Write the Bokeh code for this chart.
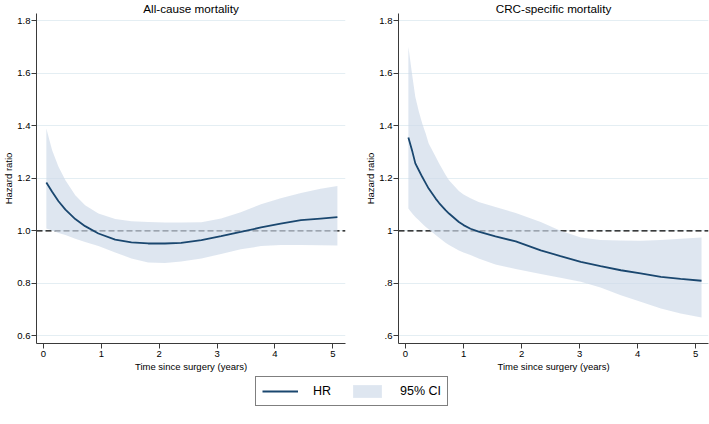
from bokeh.plotting import figure
from bokeh.models import Span, Legend, LegendItem, FixedTicker, Range1d
from bokeh.layouts import column, row
from bokeh.embed import file_html
from bokeh.resources import INLINE

# ---------------- data ----------------
titles = ["All-cause mortality", "CRC-specific mortality"]
x_label = "Time since surgery (years)"
y_label = "Hazard ratio"
x_ticks = [0, 1, 2, 3, 4, 5]
y_ticks = [0.6, 0.8, 1.0, 1.2, 1.4, 1.6, 1.8]
y_labels_all = ["0.6", "0.8", "1.0", "1.2", "1.4", "1.6", "1.8"]
y_labels_crc = [".6", ".8", "1", "1.2", "1.4", "1.6", "1.8"]
ref_value = 1.0
legend_labels = ["HR", "95% CI"]

all_time = [0.05, 0.15, 0.26, 0.38, 0.55, 0.72, 0.95, 1.24, 1.52, 1.81, 2.10,
            2.38, 2.73, 3.07, 3.41, 3.76, 4.10, 4.45, 4.79, 5.08]
all_hr = [1.184, 1.149, 1.113, 1.081, 1.045, 1.018, 0.990, 0.967, 0.956, 0.952, 0.952,
          0.954, 0.965, 0.980, 0.996, 1.013, 1.028, 1.041, 1.047, 1.052]
all_lo = [1.009, 1.001, 0.992, 0.984, 0.970, 0.958, 0.942, 0.918, 0.895, 0.880, 0.878,
          0.883, 0.895, 0.912, 0.930, 0.942, 0.946, 0.946, 0.945, 0.944]
all_hi = [1.390, 1.307, 1.244, 1.193, 1.136, 1.098, 1.066, 1.045, 1.037, 1.034, 1.032,
          1.032, 1.033, 1.047, 1.071, 1.101, 1.124, 1.144, 1.160, 1.171]

crc_time = [0.05, 0.12, 0.17, 0.23, 0.29, 0.35, 0.40, 0.52, 0.58, 0.69, 0.75, 0.92, 1.00,
            1.12, 1.26, 1.55, 1.90, 2.33, 2.67, 3.02, 3.36, 3.71, 4.05, 4.40, 4.74, 5.10]
crc_hr = [1.356, 1.301, 1.257, 1.231, 1.205, 1.181, 1.161, 1.123, 1.106, 1.079, 1.066, 1.034, 1.022,
          1.008, 0.997, 0.979, 0.960, 0.926, 0.904, 0.882, 0.866, 0.850, 0.838, 0.825, 0.817, 0.810]
crc_lo = [1.085, 1.065, 1.053, 1.040, 1.027, 1.015, 1.006, 0.984, 0.974, 0.955, 0.946, 0.925, 0.918,
          0.908, 0.895, 0.872, 0.855, 0.836, 0.821, 0.806, 0.784, 0.755, 0.730, 0.704, 0.685, 0.670]
crc_hi = [1.701, 1.587, 1.510, 1.455, 1.408, 1.370, 1.333, 1.282, 1.257, 1.214, 1.193, 1.152, 1.139,
          1.124, 1.110, 1.091, 1.068, 1.034, 1.000, 0.975, 0.965, 0.963, 0.962, 0.965, 0.970, 0.975]

# ---------------- style ----------------
FONT = "Liberation Sans"
NAVY = "#1a476f"
BAND = "#cdd9e8"
BAND_ALPHA = 0.667
GRID = "#e4eef3"
AXIS = "#3a3a3a"
PANEL_H = 374


def make_panel(title, t, hr, lo, hi, ylabels, width, border_left, border_right):
    p = figure(width=width, height=PANEL_H, output_backend="svg", toolbar_location=None,
               x_range=Range1d(-0.12, 5.22), y_range=Range1d(0.571, 1.828),
               min_border_left=border_left, min_border_right=border_right,
               min_border_top=0, min_border_bottom=29,
               title=title)
    p.outline_line_color = None
    p.background_fill_color = "white"
    p.border_fill_color = "white"
    p.title.align = "center"
    p.title.text_font = FONT
    p.title.text_font_style = "normal"
    p.title.text_font_size = "11.7px"
    p.title.text_color = "black"
    p.title.standoff = -2
    p.title.offset = 0

    p.xgrid.visible = False
    p.ygrid.grid_line_color = GRID
    p.ygrid.grid_line_width = 1

    p.xaxis.ticker = FixedTicker(ticks=x_ticks)
    p.yaxis.ticker = FixedTicker(ticks=y_ticks)
    p.yaxis.major_label_overrides = {v: s for v, s in zip(y_ticks, ylabels)}
    p.xaxis.axis_label = x_label
    p.yaxis.axis_label = y_label
    for ax in (p.xaxis, p.yaxis):
        ax.axis_line_color = AXIS
        ax.axis_line_width = 1
        ax.major_tick_line_color = AXIS
        ax.major_tick_in = 0
        ax.major_tick_out = 5
        ax.minor_tick_line_color = None
        ax.major_label_text_font = FONT
        ax.major_label_text_font_size = "9.5px"
        ax.major_label_text_color = "black"
        ax.axis_label_text_font = FONT
        ax.axis_label_text_font_size = "9.5px"
        ax.axis_label_text_font_style = "normal"
        ax.axis_label_text_color = "black"
        ax.major_label_standoff = 2
        ax.axis_label_standoff = 1
    p.yaxis.major_label_standoff = 1
    p.yaxis.axis_label_standoff = 0
    p.yaxis.major_label_orientation = "horizontal"

    span = Span(location=ref_value, dimension="width", line_color="black",
                line_width=1.2, line_dash="6 3", level="underlay")
    p.add_layout(span)
    p.varea(x=t, y1=lo, y2=hi, fill_color=BAND, fill_alpha=BAND_ALPHA)
    p.line(x=t, y=hr, line_color=NAVY, line_width=1.8)
    return p


p1 = make_panel(titles[0], all_time, all_hr, all_lo, all_hi, y_labels_all, 352, 34, 7)
p2 = make_panel(titles[1], crc_time, crc_hr, crc_lo, crc_hi, y_labels_crc, 357, 46, 1)

# legend strip (legend renderers are hidden copies of the series; only their swatches show)
LEG_H = 50
pl = figure(width=709, height=LEG_H, output_backend="svg", toolbar_location=None,
            x_axis_type=None, y_axis_type=None, min_border=0,
            x_range=Range1d(-0.12, 5.22), y_range=Range1d(0.571, 1.828))
pl.outline_line_color = None
pl.xgrid.visible = False
pl.ygrid.visible = False
r_line = pl.line(x=all_time, y=all_hr, line_color=NAVY, line_width=1.8, visible=False)
r_band = pl.varea(x=all_time, y1=all_lo, y2=all_hi, fill_color=BAND,
                  fill_alpha=BAND_ALPHA, visible=False)
legend = Legend(items=[LegendItem(label=legend_labels[0], renderers=[r_line]),
                       LegendItem(label=legend_labels[1], renderers=[r_band])],
                orientation="horizontal", location=(255, 18))
legend.click_policy = "none"
legend.border_line_color = "black"
legend.border_line_width = 1
legend.background_fill_color = "white"
legend.background_fill_alpha = 1
legend.label_text_font = FONT
legend.label_text_font_size = "12.5px"
legend.label_text_color = "black"
legend.glyph_width = 36
legend.glyph_height = 16
legend.label_standoff = 15
legend.label_width = 20
legend.spacing = 16
legend.padding = 6
legend.margin = 0
pl.add_layout(legend, "center")

layout = column(row(p1, p2, spacing=0), pl, spacing=0)

open("out.html", "w").write(file_html(layout, INLINE))
